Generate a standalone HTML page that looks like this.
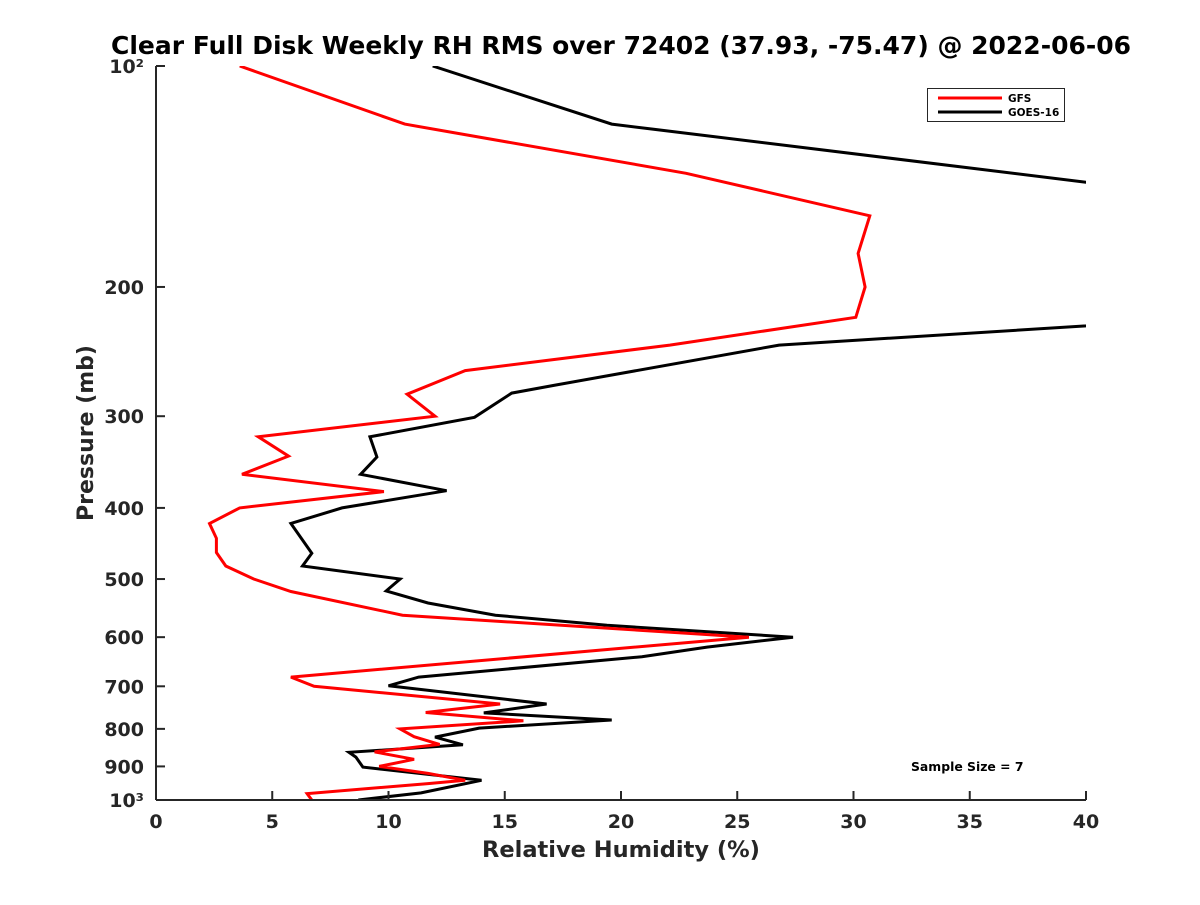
<!DOCTYPE html>
<html><head><meta charset="utf-8"><style>
body{margin:0;background:#fff}
svg text{font-family:"DejaVu Sans","Liberation Sans",sans-serif;font-weight:bold;fill:#262626}
</style></head><body>
<svg width="1200" height="900" viewBox="0 0 1200 900">
<rect width="1200" height="900" fill="#fff"/>
<defs><clipPath id="plotclip"><rect x="156" y="66" width="930" height="734"/></clipPath></defs>
<g id="grid"></g>
<g id="series" clip-path="url(#plotclip)"></g>
<g id="axes"></g>
<text x="621" y="54" text-anchor="middle" font-size="25" textLength="1020" lengthAdjust="spacingAndGlyphs" style="fill:#000">Clear Full Disk Weekly RH RMS over 72402 (37.93, -75.47) @ 2022-06-06</text>
<text x="621" y="857" text-anchor="middle" font-size="22.5">Relative Humidity (%)</text>
<text transform="translate(93,433) rotate(-90)" text-anchor="middle" font-size="22">Pressure (mb)</text>
<g>
<rect x="927.5" y="88.5" width="137" height="33" fill="#fff" stroke="#262626" stroke-width="1"/>
<line x1="938" y1="98" x2="1002" y2="98" stroke="#ff0000" stroke-width="3"/>
<line x1="938" y1="112" x2="1002" y2="112" stroke="#000" stroke-width="3"/>
<text x="1008" y="102" font-size="10.5" style="fill:#000">GFS</text>
<text x="1008" y="116" font-size="10.5" style="fill:#000">GOES-16</text>
</g>
<text x="911" y="771" font-size="12.4" style="fill:#000">Sample Size = 7</text>
</svg>
<script>
const xTicks=[0,5,10,15,20,25,30,35,40];
const yTicks=[100,200,300,400,500,600,700,800,900,1000];
const yTickLabels=["10²","200","300","400","500","600","700","800","900","10³"];
const gfsP=[100,120,140,160,180,200,220,240,260,280,300,320,340,360,380,400,420,440,460,480,500,520,560,600,680,700,740,760,780,800,820,840,860,880,900,920,940,950,980,1000];
const gfsV=[3.6,10.7,22.8,30.7,30.2,30.5,30.1,22.1,13.3,10.8,12.0,4.4,5.7,3.7,9.8,3.6,2.3,2.6,2.6,3.0,4.2,5.8,10.6,25.5,5.8,6.8,14.8,11.6,15.8,10.5,11.1,12.2,9.4,11.1,9.6,11.7,13.3,11.7,6.5,6.7];
const goesP=[100,120,144,180,226,240,272,279,301,320,341,360,379,400,420,461,480,500,519,539,560,578,600,619,638,680,699,740,761,778,798,821,841,861,874,902,940,978,1000];
const goesV=[11.9,19.6,40,60,40,26.8,17.2,15.3,13.7,9.2,9.5,8.8,12.5,8.0,5.8,6.7,6.3,10.5,9.9,11.7,14.6,19.4,27.4,23.7,20.9,11.3,10.0,16.8,14.1,19.6,13.9,12.0,13.2,8.3,8.6,8.9,14.0,11.4,8.7];
const X0=156,X1=1086,Y0=66,Y1=800;
const xs=v=>X0+(v-0)/40*(X1-X0);
const ys=p=>Y0+(Math.log10(p)-2)*(Y1-Y0);
const NS="http://www.w3.org/2000/svg";
function mk(t,a,parent){const e=document.createElementNS(NS,t);for(const k in a)e.setAttribute(k,a[k]);parent.appendChild(e);return e;}
const axes=document.getElementById('axes');
const series=document.getElementById('series');
const xa=mk('path',{d:`M${X0},${Y1}H${X1}`,stroke:'#262626','stroke-width':2,fill:'none'},axes);


const ya=mk('path',{d:`M${X0},${Y0}V${Y1}`,stroke:'#262626','stroke-width':2,fill:'none'},axes);


xTicks.forEach(v=>{const x=xs(v);
 mk('line',{x1:x,y1:Y1,x2:x,y2:Y1-9,stroke:'#262626','stroke-width':2},axes);
 const t=mk('text',{x:x,y:Y1+28,'text-anchor':'middle','font-size':19},axes);t.textContent=v;
 
 
});
yTicks.forEach((p,i)=>{const y=ys(p);
 mk('line',{x1:X0,y1:y,x2:X0+9,y2:y,stroke:'#262626','stroke-width':2},axes);
 const t=mk('text',{x:X0-12,y:y+7,'text-anchor':'end','font-size':19},axes);t.textContent=yTickLabels[i];
 
 
});
function line(P,V,c,name){
 const d=P.map((p,i)=>(i?'L':'M')+xs(V[i]).toFixed(1)+','+ys(p).toFixed(1)).join('');
 const e=mk('path',{d:d,stroke:c,'stroke-width':3,fill:'none','stroke-linejoin':'miter'},series);
 
 
}
line(goesP,goesV,'#000','goes16-line');
line(gfsP,gfsV,'#ff0000','gfs-line');
</script>
</body></html>
